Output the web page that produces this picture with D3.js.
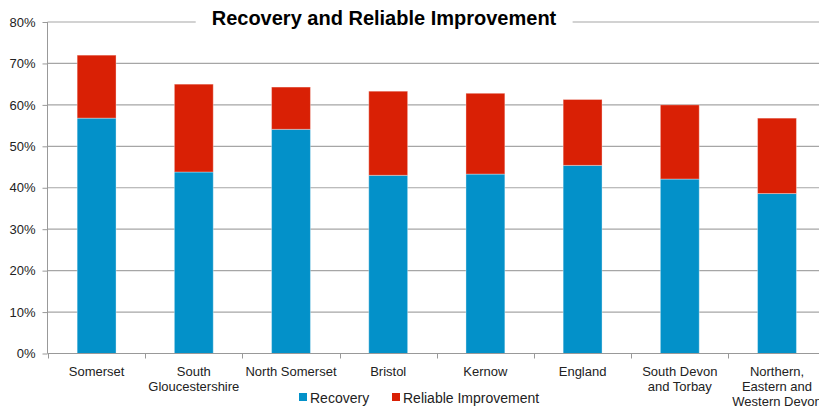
<!DOCTYPE html>
<html><head><meta charset="utf-8">
<script src="https://cdn.jsdelivr.net/npm/d3@7"></script>
<style>html,body{margin:0;padding:0;background:#fff;overflow:hidden}svg{display:block}</style>
</head><body>
<script>
const categories = ["Somerset","South\nGloucestershire","North Somerset","Bristol","Kernow","England","South Devon\nand Torbay","Northern,\nEastern and\nWestern Devon"];
const recovery = [56.8, 43.8, 54.1, 43.0, 43.3, 45.4, 42.1, 38.6];
const reliableImprovement = [15.2, 21.2, 10.2, 20.3, 19.5, 15.9, 17.9, 18.2];
const yTicks = [0,10,20,30,40,50,60,70,80];
const seriesNames = ["Recovery","Reliable Improvement"];
const colors = ["#0391C9","#D92005"];
const title = "Recovery and Reliable Improvement";

const W = 819, H = 409;
const svg = d3.select("body").append("svg").attr("width", W).attr("height", H);
const font = "Liberation Sans, Arial, sans-serif";

const x = d3.scaleBand().domain(categories).range([48, 825.6]).paddingInner(0.6).paddingOuter(0.3);
const y = d3.scaleLinear().domain([0, 80]).range([353.5, 22]);

// gridlines
svg.append("g").selectAll("line").data(yTicks.filter(d => d > 0)).join("line")
  .attr("x1", 47.5).attr("x2", W).attr("y1", d => y(d)).attr("y2", d => y(d))
  .attr("stroke", "#a6a6a6").attr("stroke-width", 1.2);

// stacked data
const rows = categories.map((c, i) => ({cat: c, Recovery: recovery[i], "Reliable Improvement": reliableImprovement[i]}));
const stack = d3.stack().keys(seriesNames)(rows);
svg.append("g").selectAll("g").data(stack).join("g")
  .attr("fill", (d, i) => colors[i])
  .selectAll("rect").data(d => d).join("rect")
  .attr("x", d => x(d.data.cat)).attr("width", x.bandwidth())
  .attr("y", d => y(d[1])).attr("height", d => y(d[0]) - y(d[1]))
  .attr("stroke", "rgba(255,255,255,0.35)").attr("stroke-width", 1);

// y axis
const yAxis = svg.append("g").attr("transform", "translate(47.5,0)")
  .call(d3.axisLeft(y).tickValues(yTicks).tickFormat(d => d + "%").tickSize(5).tickPadding(7));
yAxis.select(".domain").attr("stroke", "#999").attr("d", `M0,${y(80)}V${y(0)}`);
yAxis.selectAll(".tick line").attr("stroke", "#999");
yAxis.selectAll("text").attr("font-family", font).attr("font-size", 13).attr("fill", "#222");

// x axis
const xAxis = svg.append("g").attr("transform", "translate(0,353.5)");
xAxis.append("line").attr("x1", 47.5).attr("x2", W).attr("stroke", "#999");
const step = x.step();
const boundaries = d3.range(categories.length + 1).map(i => 48 + i * step);
xAxis.selectAll("line.tk").data(boundaries).join("line").attr("class", "tk")
  .attr("x1", d => Math.round(d) + 0.5).attr("x2", d => Math.round(d) + 0.5).attr("y1", 0).attr("y2", 5)
  .attr("stroke", "#999");
const lbl = xAxis.selectAll("text.lbl").data(categories).join("text").attr("class", "lbl")
  .attr("x", d => x(d) + x.bandwidth() / 2).attr("y", 22)
  .attr("text-anchor", "middle").attr("font-family", font).attr("font-size", 13).attr("fill", "#222");
lbl.selectAll("tspan").data(d => d.split("\n")).join("tspan")
  .attr("x", function() { return this.parentNode.getAttribute("x"); })
  .attr("dy", (d, i) => i === 0 ? 0 : 15).text(d => d);

// title
const tg = svg.append("g");
const tt = tg.append("text").attr("x", 384).attr("y", 25).attr("text-anchor", "middle")
  .attr("font-family", font).attr("font-size", 20).attr("font-weight", "bold").attr("fill", "#000").text(title);
const bb = tt.node().getBBox();
tg.insert("rect", "text").attr("x", bb.x - 16).attr("y", bb.y).attr("width", bb.width + 32).attr("height", bb.height).attr("fill", "#fff");

// legend
const legendX = [299, 392];
const lg = svg.append("g");
seriesNames.forEach((s, i) => {
  lg.append("rect").attr("x", legendX[i]).attr("y", 393).attr("width", 8).attr("height", 8).attr("fill", colors[i]);
  lg.append("text").attr("x", legendX[i] + 11).attr("y", 402.5).attr("font-family", font).attr("font-size", 14).attr("fill", "#222").text(s);
});
</script>
</body></html>
